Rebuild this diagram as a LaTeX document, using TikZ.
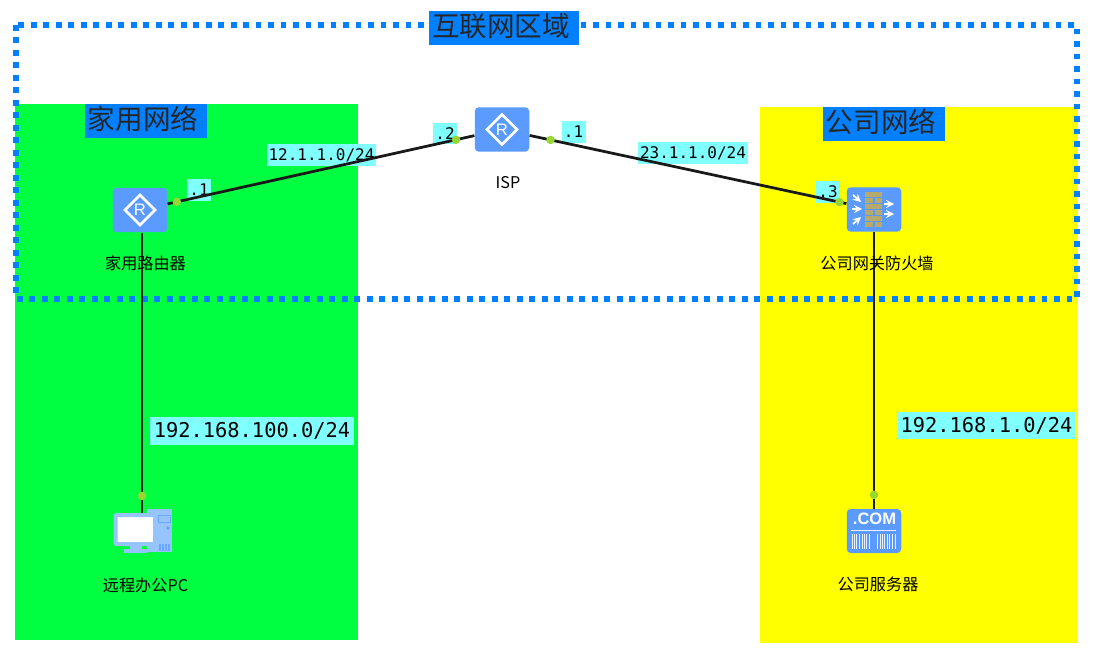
\documentclass[tikz,border=0pt]{standalone}
\usepackage{fontspec}
\setmainfont{Noto Sans CJK SC}
\newfontfamily\codefont{DejaVu Sans Mono}
\newfontfamily\iconfont{Liberation Sans}
\definecolor{zonegreen}{RGB}{0,255,64}
\definecolor{zoneyellow}{RGB}{255,255,0}
\definecolor{zoneblue}{RGB}{0,128,255}
\definecolor{tagcyan}{RGB}{128,255,255}
\definecolor{iconblue}{RGB}{91,155,255}
\definecolor{iconpale}{RGB}{150,196,255}
\definecolor{brick}{RGB}{181,169,107}
\definecolor{portgreen}{RGB}{150,215,50}
\tikzset{
  zonetitle/.style={fill=zoneblue, inner sep=0pt, minimum height=0.67cm, text=black!85,
    text height=0.465cm, text depth=0.135cm, execute at end node={\kern0.12cm},
    font=\fontsize{15.7}{16}\selectfont},
  tag/.style={fill=tagcyan, inner sep=0pt, minimum height=0.44cm, font=\codefont\fontsize{9.1}{10}\selectfont},
  bigtag/.style={tag, minimum height=0.55cm, font=\codefont\fontsize{11.6}{12}\selectfont},
  device/.style={fill=iconblue, rounded corners=0.08cm, inner sep=0pt, minimum width=1.09cm, minimum height=0.89cm},
  devname/.style={inner sep=0pt, font=\fontsize{9.2}{10}\selectfont},
  link/.style={line width=0.055cm, black!90},
  port/.style={circle, fill=portgreen, inner sep=0pt, minimum size=0.17cm},
  flow/.style={white, line width=0.035cm, -stealth},
}
\begin{document}
\begin{tikzpicture}[x=0.02cm, y=-0.02cm]
  \useasboundingbox (0,0) rectangle (1095,652);
  % zones
  \fill[zonegreen] (15,104) rectangle (358,640);
  \fill[zoneyellow] (760,107) rectangle (1078,643);
  \draw[zoneblue, line width=0.115cm, dash pattern=on 0.115cm off 0.135cm] (16,25) rectangle (1077,299);
  \node[zonetitle, minimum width=3cm] (ztop) at (504,28) {互联网区域};
  \node[zonetitle, minimum width=2.44cm] (zhome) at (146,121) {家用网络};
  \node[zonetitle, minimum width=2.44cm] (zwork) at (884,124) {公司网络};

  % address tags
  \node[tag, minimum width=2.18cm] (t1) at (321.5,155) {12.1.1.0/24};
  \node[tag, minimum width=2.2cm] (t2) at (693,153) {23.1.1.0/24};
  \node[tag, minimum width=0.48cm] (p1) at (199,190) {.1};
  \node[tag, minimum width=0.48cm] (p2) at (445,133.5) {.2};
  \node[tag, minimum width=0.48cm] (p3) at (573.5,132) {.1};
  \node[tag, minimum width=0.48cm] (p4) at (828,192) {.3};
  \node[bigtag, minimum width=4.08cm] (t3) at (252,431) {192.168.100.0/24};
  \node[bigtag, minimum width=3.54cm] (t4) at (986.5,425.5) {192.168.1.0/24};

  % devices
  \node[device] (R1) at (140,210) {};
  \node[device] (ISP) at (502,129.5) {};
  \node[device] (FW) at (874,209.5) {};
  \node[device, minimum height=0.88cm] (SRV) at (874,531) {};
  \node[inner sep=0pt, minimum width=1.2cm, minimum height=0.8cm] (PC) at (142,533) {};

  % links
  \draw[link] (R1) -- node[port, pos=0.03] (a1) {} node[port, pos=0.94] (a2) {} (ISP);
  \draw[link] (ISP) -- node[port, pos=0.066] (b1) {} node[port, pos=0.978] (b2) {} (FW);
  \draw[link] (R1.south -| PC) -- node[port, pos=0.94] (c1) {} (PC);
  \draw[link] (FW) -- node[port, pos=0.95] (c2) {} (SRV);

  % router icons
  \foreach \r in {R1,ISP}{
    \draw[white, line width=0.05cm] (\r)+(-15,0) -- +(0,-15) -- +(15,0) -- +(0,15) -- cycle;
    \node[white, inner sep=0pt, font=\iconfont\fontsize{9.5}{10}\selectfont] at (\r) {R};
  }

  % firewall icon
  \foreach \y in {192,204,216}
    \fill[brick] (865,\y) rectangle (882,\y+4.5);
  \foreach \y in {198,210,222}{
    \fill[brick] (865,\y) rectangle (872.5,\y+4.5);
    \fill[brick] (874.5,\y) rectangle (882,\y+4.5);
  }
  \draw[flow] (853,195) -- (861,202);
  \draw[flow] (852,209) -- (862,209);
  \draw[flow] (853,224) -- (861,217);
  \draw[flow] (884,204) -- (894,204);
  \draw[flow] (884,214) -- (894,214);

  % pc icon
  \fill[iconpale] (147,509) rectangle (172,552);
  \draw[iconblue!70!iconpale, line width=0.02cm] (158,515) rectangle (170,522);
  \fill[iconblue] (168,528) circle (1.6);
  \foreach \x in {159,162,165,168}
    \fill[iconblue!70!iconpale] (\x,544) rectangle +(1.5,7);
  \fill[iconpale] (124,549) rectangle (147,553);
  \fill[iconpale] (130,544) rectangle (142,550);
  \draw[iconpale, fill=white, line width=0.08cm, rounded corners=0.02cm] (115.5,515) rectangle (155,544);

  % server icon
  \node[white, inner sep=0pt, font=\iconfont\bfseries\fontsize{9.4}{10}\selectfont] (dotcom) at (874.5,519) {.COM};
  \fill[white!85!iconblue] (851,529.5) rectangle (896,531);
  \foreach \x in {851.5,854,856,859,861.5,864,866,868.5,877,879.5,882,884,887,889,892,894.5}
    \fill[white!85!iconblue] (\x,534) rectangle +(1.4,15);

  % names
  \node[devname] (nR1) at (145.5,263) {家用路由器};
  \node[devname] (nISP) at (508,183) {ISP};
  \node[devname] (nFW) at (877,263) {公司网关防火墙};
  \node[devname] (nPC) at (145.5,585) {远程办公PC};
  \node[devname] (nSRV) at (878,584) {公司服务器};
\end{tikzpicture}
\end{document}
